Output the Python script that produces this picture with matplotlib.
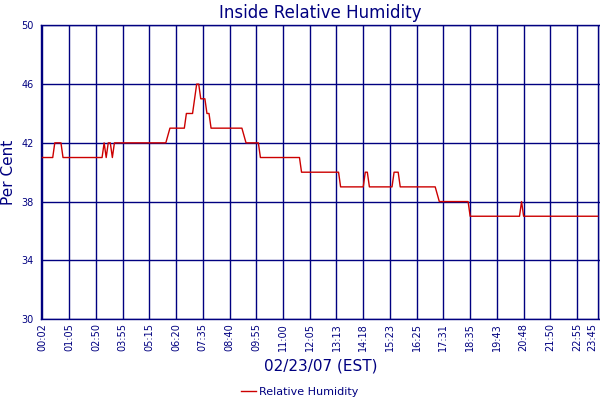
import matplotlib
matplotlib.use('Agg')
import matplotlib.pyplot as plt

# x tick labels, one every 13 samples (last one closes the day)
tick_labels = ['00:02', '01:05', '02:50', '03:55', '05:15', '06:20', '07:35', '08:40',
               '09:55', '11:00', '12:05', '13:13', '14:18', '15:23', '16:25', '17:31',
               '18:35', '19:43', '20:48', '21:50', '22:55', '23:45']
tick_pos = [0, 13, 26, 39, 52, 65, 78, 91, 104, 117, 130, 143, 156, 169, 182, 195,
            208, 221, 234, 247, 260, 270]

rh_idx = [0, 5, 6, 9, 10, 29, 30, 31, 32, 33, 34, 35, 60, 62, 69, 70, 73, 74, 75, 76,
          77, 79, 80, 81, 82, 97, 99, 105, 106, 125, 126, 144, 145, 156, 157, 158, 159,
          170, 171, 173, 174, 191, 193, 207, 208, 232, 233, 234, 270]
rh_val = [41, 41, 42, 42, 41, 41, 42, 41, 42, 42, 41, 42, 42, 43, 43, 44, 44, 45, 46, 46,
          45, 45, 44, 44, 43, 43, 42, 42, 41, 41, 40, 40, 39, 39, 40, 40, 39,
          39, 40, 40, 39, 39, 38, 38, 37, 37, 38, 37, 37]

y_ticks = [30, 34, 38, 42, 46, 50]

navy = '#000080'
red = '#cc0000'

fig = plt.figure(figsize=(6, 4), dpi=100)
ax = fig.add_axes([0.068, 0.2025, 0.9315, 0.734])

ax.plot(rh_idx, rh_val, color=red, lw=1.0, label='Relative Humidity', zorder=3)

ax.set_xlim(-0.8, 271.0)
ax.set_ylim(30, 50)
ax.set_xticks(tick_pos)
ax.set_xticklabels(tick_labels, rotation=90, fontsize=7, color=navy)
# last label sits on the right edge, keep it inside the picture
ax.get_xticklabels()[-1].set_horizontalalignment('right')
ax.set_yticks(y_ticks)
ax.set_yticklabels([str(v) for v in y_ticks], fontsize=7, color=navy)
ax.tick_params(length=0, pad=3)
ax.tick_params(axis='y', pad=5)
ax.grid(True, color=navy, lw=1.0)
for s in ax.spines.values():
    s.set_color(navy)
    s.set_linewidth(1.0)

ax.set_title('Inside Relative Humidity', fontsize=12, color=navy, pad=5)
ax.set_ylabel('Per Cent', fontsize=11, color=navy, labelpad=4)
ax.set_xlabel('02/23/07 (EST)', fontsize=11, color=navy, labelpad=5)

leg = fig.legend(loc='lower center', bbox_to_anchor=(0.5, -0.018), frameon=False,
                 fontsize=8, handlelength=1.3, handletextpad=0.3)
for t in leg.get_texts():
    t.set_color(navy)

fig.savefig('out.png', dpi=100)
